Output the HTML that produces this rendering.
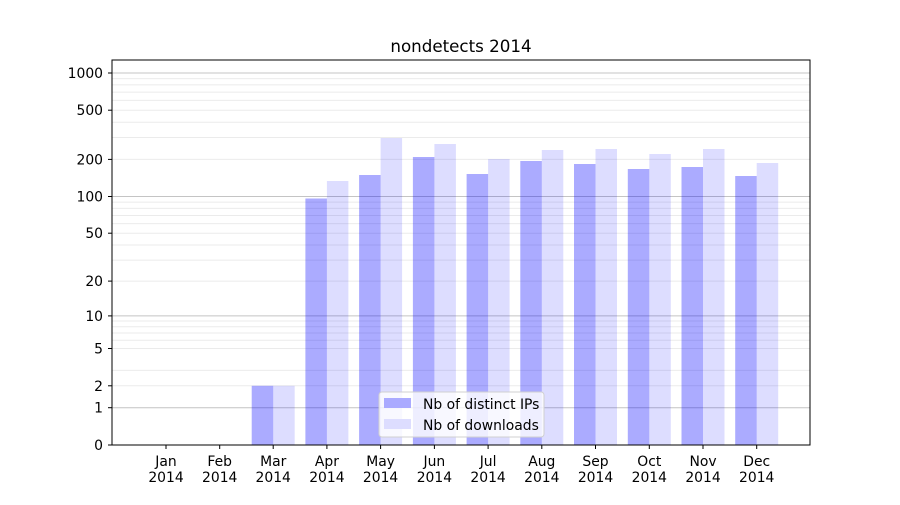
<!DOCTYPE html>
<html><head><meta charset="utf-8"><style>
body{margin:0;background:#fff}
svg text{font-family:"DejaVu Sans","Liberation Sans",sans-serif;fill:#000}
</style></head><body>
<svg width="900" height="500" viewBox="0 0 900 500" xmlns="http://www.w3.org/2000/svg">
<rect width="900" height="500" fill="#fff"/>
<g stroke="#ebebeb" stroke-width="1">
<line x1="112" x2="810" y1="385.8" y2="385.8"/><line x1="112" x2="810" y1="370.4" y2="370.4"/><line x1="112" x2="810" y1="348.5" y2="348.5"/><line x1="112" x2="810" y1="340.2" y2="340.2"/><line x1="112" x2="810" y1="333" y2="333"/><line x1="112" x2="810" y1="326.7" y2="326.7"/><line x1="112" x2="810" y1="321" y2="321"/>
<line x1="112" x2="810" y1="281.1" y2="281.1"/><line x1="112" x2="810" y1="260.1" y2="260.1"/><line x1="112" x2="810" y1="245" y2="245"/><line x1="112" x2="810" y1="233.2" y2="233.2"/><line x1="112" x2="810" y1="223.6" y2="223.6"/><line x1="112" x2="810" y1="215.5" y2="215.5"/><line x1="112" x2="810" y1="208.4" y2="208.4"/><line x1="112" x2="810" y1="202.1" y2="202.1"/>
<line x1="112" x2="810" y1="159.4" y2="159.4"/><line x1="112" x2="810" y1="137.5" y2="137.5"/><line x1="112" x2="810" y1="122.2" y2="122.2"/><line x1="112" x2="810" y1="110.2" y2="110.2"/><line x1="112" x2="810" y1="100.4" y2="100.4"/><line x1="112" x2="810" y1="92.1" y2="92.1"/><line x1="112" x2="810" y1="84.9" y2="84.9"/><line x1="112" x2="810" y1="78.6" y2="78.6"/>
</g>
<g stroke="#c4c4c4" stroke-width="1">
<line x1="112" x2="810" y1="407.7" y2="407.7"/><line x1="112" x2="810" y1="315.9" y2="315.9"/><line x1="112" x2="810" y1="196.5" y2="196.5"/><line x1="112" x2="810" y1="73" y2="73"/>
</g>
<g fill="#0000ff" fill-opacity="0.33">
<rect x="251.7" y="385.8" width="21.5" height="59.2"/>
<rect x="305.4" y="198.5" width="21.5" height="246.5"/>
<rect x="359.1" y="175" width="21.5" height="270"/>
<rect x="412.9" y="157" width="21.5" height="288"/>
<rect x="466.6" y="174" width="21.5" height="271"/>
<rect x="520.3" y="161" width="21.5" height="284"/>
<rect x="574" y="164" width="21.5" height="281"/>
<rect x="627.8" y="169" width="21.5" height="276"/>
<rect x="681.5" y="167" width="21.5" height="278"/>
<rect x="735.2" y="176" width="21.5" height="269"/>
</g>
<g fill="#0000ff" fill-opacity="0.135">
<rect x="273.2" y="385.8" width="21.5" height="59.2"/>
<rect x="326.9" y="181" width="21.5" height="264"/>
<rect x="380.6" y="138" width="21.5" height="307"/>
<rect x="434.4" y="144" width="21.5" height="301"/>
<rect x="488.1" y="159" width="21.5" height="286"/>
<rect x="541.8" y="150" width="21.5" height="295"/>
<rect x="595.5" y="149" width="21.5" height="296"/>
<rect x="649.3" y="154" width="21.5" height="291"/>
<rect x="703" y="149" width="21.5" height="296"/>
<rect x="756.7" y="163" width="21.5" height="282"/>
</g>
<rect x="112" y="60" width="698" height="385" fill="none" stroke="#000" stroke-width="1"/>
<g stroke="#000" stroke-width="1">
<line x1="108" x2="112" y1="445" y2="445"/><line x1="108" x2="112" y1="407.7" y2="407.7"/><line x1="108" x2="112" y1="385.8" y2="385.8"/><line x1="108" x2="112" y1="348.5" y2="348.5"/><line x1="108" x2="112" y1="315.9" y2="315.9"/><line x1="108" x2="112" y1="281.1" y2="281.1"/><line x1="108" x2="112" y1="233.2" y2="233.2"/><line x1="108" x2="112" y1="196.5" y2="196.5"/><line x1="108" x2="112" y1="159.4" y2="159.4"/><line x1="108" x2="112" y1="110.2" y2="110.2"/><line x1="108" x2="112" y1="73" y2="73"/>
<line x1="166" x2="166" y1="445" y2="449"/><line x1="219.7" x2="219.7" y1="445" y2="449"/><line x1="273.2" x2="273.2" y1="445" y2="449"/><line x1="326.9" x2="326.9" y1="445" y2="449"/><line x1="380.6" x2="380.6" y1="445" y2="449"/><line x1="434.4" x2="434.4" y1="445" y2="449"/><line x1="488.1" x2="488.1" y1="445" y2="449"/><line x1="541.8" x2="541.8" y1="445" y2="449"/><line x1="595.5" x2="595.5" y1="445" y2="449"/><line x1="649.3" x2="649.3" y1="445" y2="449"/><line x1="703" x2="703" y1="445" y2="449"/><line x1="756.7" x2="756.7" y1="445" y2="449"/>
</g>
<g font-size="13.9" text-anchor="end">
<text x="103" y="450">0</text><text x="103" y="412.7">1</text><text x="103" y="390.8">2</text><text x="103" y="353.5">5</text><text x="103" y="320.9">10</text><text x="103" y="286.1">20</text><text x="103" y="238.2">50</text><text x="103" y="201.5">100</text><text x="103" y="164.4">200</text><text x="103" y="115.2">500</text><text x="103" y="78">1000</text>
</g>
<g font-size="13.9" text-anchor="middle">
<text x="166" y="466">Jan</text><text x="166" y="482">2014</text>
<text x="219.7" y="466">Feb</text><text x="219.7" y="482">2014</text>
<text x="273.2" y="466">Mar</text><text x="273.2" y="482">2014</text>
<text x="326.9" y="466">Apr</text><text x="326.9" y="482">2014</text>
<text x="380.6" y="466">May</text><text x="380.6" y="482">2014</text>
<text x="434.4" y="466">Jun</text><text x="434.4" y="482">2014</text>
<text x="488.1" y="466">Jul</text><text x="488.1" y="482">2014</text>
<text x="541.8" y="466">Aug</text><text x="541.8" y="482">2014</text>
<text x="595.5" y="466">Sep</text><text x="595.5" y="482">2014</text>
<text x="649.3" y="466">Oct</text><text x="649.3" y="482">2014</text>
<text x="703" y="466">Nov</text><text x="703" y="482">2014</text>
<text x="756.7" y="466">Dec</text><text x="756.7" y="482">2014</text>
<text x="461" y="52" font-size="16.7">nondetects 2014</text>
</g>
<rect x="379" y="392" width="165" height="45" rx="3" fill="#fff" fill-opacity="0.8" stroke="#d0d0d0"/>
<rect x="384" y="398" width="27" height="10" fill="#aaaaff"/>
<rect x="384" y="419" width="27" height="10" fill="#ddddff"/>
<text x="423" y="409" font-size="13.9">Nb of distinct IPs</text>
<text x="423" y="430" font-size="13.9">Nb of downloads</text>
</svg>
</body></html>
